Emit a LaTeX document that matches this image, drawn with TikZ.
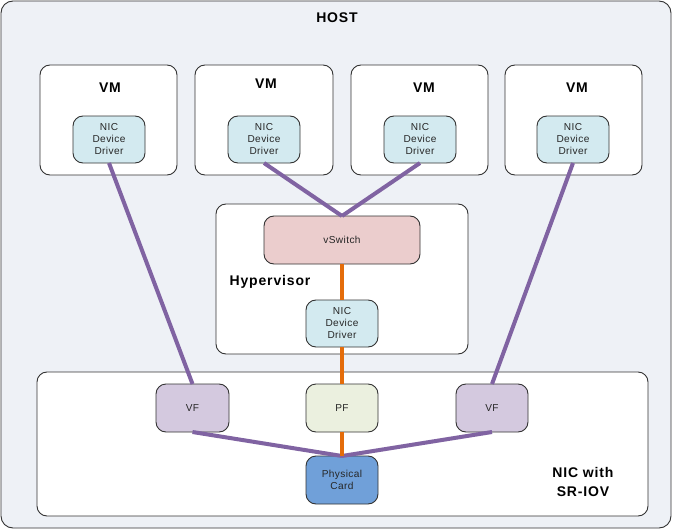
\documentclass[tikz,border=0pt]{standalone}
\usepackage{fontspec}
\setmainfont{Liberation Sans}
\newfontfamily\lblfont[LetterSpace=6]{Liberation Sans}
\newfontfamily\smlfont[LetterSpace=4]{Liberation Sans}
\begin{document}
\begin{tikzpicture}[x=1pt,y=-1pt,
  box/.style={draw=black!80, line width=0.9pt, rounded corners=10pt, inner sep=0pt, outer sep=0pt},
  smalltxt/.style={font=\smlfont\fontsize{10.1}{12}\selectfont, text=black!85, align=center},
  bigtxt/.style={font=\lblfont\fontsize{14}{19}\selectfont\bfseries, text=black, align=center},
  purp/.style={draw=vmline, line width=4pt},
  orng/.style={draw=pfline, line width=4pt}]
\definecolor{hostfill}{RGB}{238,241,246}
\definecolor{drvfill}{RGB}{211,234,240}
\definecolor{swfill}{RGB}{235,205,205}
\definecolor{pffill}{RGB}{235,240,223}
\definecolor{vffill}{RGB}{212,201,223}
\definecolor{physfill}{RGB}{112,160,217}
\definecolor{vmline}{RGB}{128,99,162}
\definecolor{pfline}{RGB}{228,108,10}
\useasboundingbox (0,0) rectangle (673,530);
% containers
\node[box, fill=hostfill, rounded corners=12pt, minimum width=670, minimum height=527] (host) at (336,264.5) {};
\node[bigtxt] (hostlbl) at (337,18) {HOST};
\node[box, fill=white, minimum width=137, minimum height=110] (vm1) at (108.5,120) {};
\node[box, fill=white, minimum width=138, minimum height=110] (vm2) at (264,120) {};
\node[box, fill=white, minimum width=137, minimum height=110] (vm3) at (419.5,120) {};
\node[box, fill=white, minimum width=137, minimum height=110] (vm4) at (573.5,120) {};
\node[bigtxt] (vm1lbl) at (110,88) {VM};
\node[bigtxt] (vm2lbl) at (266,84) {VM};
\node[bigtxt] (vm3lbl) at (424,88) {VM};
\node[bigtxt] (vm4lbl) at (577,88) {VM};
\node[box, fill=white, minimum width=252, minimum height=150] (hyp) at (342,279) {};
\node[bigtxt] (hyplbl) at (270,282) {Hypervisor};
\node[box, fill=white, minimum width=611, minimum height=144] (nic) at (342.5,444) {};
\node[bigtxt] (niclbl) at (583,482) {NIC with\\SR-IOV};
% inner nodes
\node[box, fill=drvfill, minimum width=72, minimum height=47, smalltxt] (d1) at (109,139.5) {NIC\\Device\\Driver};
\node[box, fill=drvfill, minimum width=72, minimum height=47, smalltxt] (d2) at (264,139.5) {NIC\\Device\\Driver};
\node[box, fill=drvfill, minimum width=72, minimum height=47, smalltxt] (d3) at (420,139.5) {NIC\\Device\\Driver};
\node[box, fill=drvfill, minimum width=72, minimum height=47, smalltxt] (d4) at (573,139.5) {NIC\\Device\\Driver};
\node[box, fill=swfill, minimum width=156, minimum height=48, smalltxt] (vsw) at (342,240) {vSwitch};
\node[box, fill=drvfill, minimum width=72, minimum height=47, smalltxt] (hd) at (342,323.5) {NIC\\Device\\Driver};
\node[box, fill=vffill, minimum width=73, minimum height=48, smalltxt] (vf1) at (192.5,408) {VF};
\node[box, fill=pffill, minimum width=72, minimum height=48, smalltxt] (pf) at (342,408) {PF};
\node[box, fill=vffill, minimum width=72, minimum height=48, smalltxt] (vf2) at (492,408) {VF};
\node[box, fill=physfill, minimum width=72, minimum height=48, smalltxt] (phys) at (342,480) {Physical\\Card};
% connectors
\draw[purp] (d1.south) -- (vf1.north);
\draw[purp] (d2.south) -- (vsw.north);
\draw[purp] (d3.south) -- (vsw.north);
\draw[purp] (d4.south) -- (vf2.north);
\draw[purp] (vf1.south) -- (phys.north);
\draw[purp] (vf2.south) -- (phys.north);
\draw[orng] (vsw.south) -- (hd.north);
\draw[orng] (hd.south) -- (pf.north);
\draw[orng] (pf.south) -- (phys.north);
\end{tikzpicture}
\end{document}
